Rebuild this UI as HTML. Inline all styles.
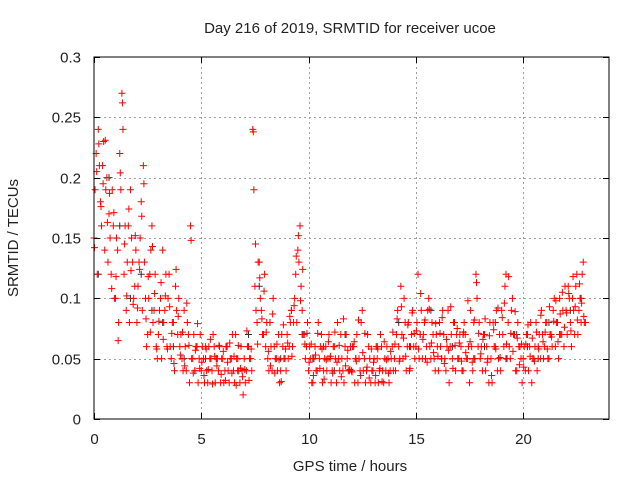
<!DOCTYPE html>
<html><head><meta charset="utf-8"><style>
body{margin:0;background:#fff;}
svg text{font-family:"Liberation Sans",sans-serif;font-size:15px;fill:#222;}
</style></head><body>
<svg id="chart" width="640" height="480" xmlns="http://www.w3.org/2000/svg">
<rect width="640" height="480" fill="#fff"/>
<text x="350" y="33" text-anchor="middle">Day 216 of 2019, SRMTID for receiver ucoe</text>
<g id="grid"></g>
<g id="marks"></g>
<rect x="94" y="57" width="515" height="362" fill="none" stroke="#000" stroke-width="1"/>
<g id="ticks"></g>
<text x="350" y="471" text-anchor="middle">GPS time / hours</text>
<text transform="translate(18,238) rotate(-90)" text-anchor="middle">SRMTID / TECUs</text>
</svg>
<script>
const xTicks=[0,5,10,15,20];
const yTicks=[0,0.05,0.1,0.15,0.2,0.25,0.3];
const yTickLabels=["0","0.05","0.1","0.15","0.2","0.25","0.3"];
const startHour=0, stepHour=0.1;
const redA=[.15,.22,.24,.18,.21,.14,.20,.17,.12,.16,
.10,.14,.22,.27,.12,.09,.16,.19,.13,.11,
.08,.13,.18,.21,.10,.07,.12,.16,.09,.06,
.07,.10,.14,.09,.06,.12,.05,.08,.11,.07,
.06,.05,.09,.04,.07,.16,.05,.04,.06,.05,
.04,.05,.06,.03,.05,.04,.06,.05,.04,.03,
.05,.04,.06,.03,.05,.04,.07,.05,.03,.04,
.05,.04,.06,.05,.24,.11,.08,.13,.09,.07,
.06,.05,.08,.04,.06,.05,.07,.04,.06,.05,
.07,.06,.09,.08,.12,.14,.16,.09,.07,.06,
.04,.05,.03,.06,.04,.05,.07,.04,.06,.05,
.05,.04,.06,.03,.05,.07,.04,.06,.05,.04,
.04,.06,.05,.03,.04,.09,.05,.04,.06,.03,
.04,.03,.05,.04,.06,.03,.04,.05,.04,.06,
.05,.07,.06,.11,.05,.08,.06,.04,.07,.06,
.06,.12,.07,.05,.08,.06,.10,.05,.07,.04,
.06,.08,.05,.07,.04,.09,.06,.05,.08,.07,
.05,.06,.04,.07,.05,.03,.06,.08,.12,.06,
.05,.04,.07,.06,.03,.05,.08,.06,.04,.07,
.09,.06,.12,.08,.05,.10,.07,.04,.06,.05,
.05,.04,.07,.06,.03,.05,.08,.06,.05,.07,
.06,.08,.05,.07,.09,.06,.08,.10,.07,.06,
.09,.11,.08,.10,.07,.12,.09,.08,.13,.08];
const redB=[.19,.12,.21,.16,.23,.19,.13,.15,.19,.10,
.15,.08,.19,.24,.16,.13,.08,.15,.10,.14,
.11,.15,.09,.13,.06,.10,.14,.08,.12,.05,
.09,.05,.08,.12,.10,.06,.08,.04,.09,.10,
.07,.04,.06,.08,.03,.05,.07,.06,.03,.07,
.06,.03,.04,.06,.05,.07,.03,.05,.06,.05,
.03,.06,.04,.05,.07,.03,.05,.04,.06,.02,
.03,.06,.05,.04,.19,.09,.13,.10,.07,.12,
.08,.04,.06,.10,.05,.04,.03,.07,.05,.04,
.05,.08,.06,.10,.08,.13,.11,.07,.05,.08,
.06,.03,.05,.04,.08,.06,.03,.05,.04,.07,
.03,.06,.05,.08,.04,.05,.03,.07,.04,.06,
.06,.03,.07,.05,.08,.04,.03,.07,.05,.04,
.05,.06,.03,.07,.04,.05,.06,.03,.05,.04,
.04,.09,.05,.07,.10,.04,.08,.06,.09,.05,
.08,.05,.09,.07,.05,.09,.06,.08,.05,.07,
.04,.06,.09,.05,.06,.03,.07,.08,.04,.05,
.07,.04,.08,.05,.06,.09,.04,.05,.10,.08,
.06,.07,.04,.05,.08,.03,.06,.09,.05,.04,
.07,.11,.05,.06,.09,.07,.04,.08,.06,.03,
.06,.07,.04,.08,.05,.06,.04,.07,.09,.05,
.08,.05,.07,.06,.10,.08,.05,.07,.09,.11,
.07,.10,.06,.09,.11,.07,.10,.12,.08];
const redC=[.142,.205,.228,.176,.195,.231,.163,.187,.108,.171,
.118,.065,.204,.262,.145,.102,.174,.123,.095,.152,
.092,.124,.168,.195,.083,.118,.072,.143,.104,.058,
.081,.113,.066,.102,.058,.093,.071,.046,.124,.085,
.053,.072,.044,.096,.061,.148,.038,.057,.079,.042,
.047,.036,.058,.041,.066,.029,.052,.044,.061,.037,
.056,.032,.047,.063,.038,.052,.028,.061,.042,.035,
.041,.073,.032,.058,.238,.145,.062,.117,.083,.106,
.072,.056,.044,.087,.038,.062,.049,.031,.078,.058,
.063,.085,.052,.094,.135,.152,.098,.124,.062,.071,
.047,.062,.036,.053,.071,.042,.058,.033,.049,.064,
.052,.038,.072,.047,.061,.035,.083,.044,.057,.041,
.039,.064,.048,.082,.036,.055,.071,.043,.034,.058,
.047,.036,.058,.042,.031,.064,.049,.038,.056,.072,
.062,.083,.048,.093,.067,.052,.078,.042,.088,.071,
.073,.058,.104,.066,.082,.047,.091,.063,.055,.079,
.052,.071,.084,.046,.066,.057,.093,.042,.061,.075,
.063,.048,.072,.055,.098,.064,.047,.082,.113,.071,
.054,.066,.083,.047,.069,.036,.074,.058,.092,.051,
.084,.096,.062,.118,.071,.056,.089,.067,.045,.062,
.043,.062,.078,.052,.067,.048,.072,.058,.086,.064,
.072,.058,.093,.068,.081,.098,.064,.087,.105,.076,
.088,.104,.073,.118,.093,.082,.112,.096,.085];
const blackStep=0.5;
const blackVals=[.12,.20,.16,.10,.12,.09,.08,.06,.05,.04,.05,.05,.06,.04,.07,.11,.08,.05,.09,.07,.05,.06,.04,.07,.05,.04,.06,.05,.08,.06,.07,.09,.05,.06,.07,.05,.06,.08,.05,.07,.06,.05,.08,.07,.09,.10];

const NS="http://www.w3.org/2000/svg";
const X0=94,X1=609,Y0=419,Y1=57;
const xs=h=>X0+h/24*(X1-X0);
const ys=v=>Y0-v/0.3*(Y0-Y1);
const grid=document.getElementById('grid'),ticks=document.getElementById('ticks'),marks=document.getElementById('marks');
function line(p,x1,y1,x2,y2,st,da){const l=document.createElementNS(NS,'line');l.setAttribute('x1',x1);l.setAttribute('y1',y1);l.setAttribute('x2',x2);l.setAttribute('y2',y2);l.setAttribute('stroke',st);if(da)l.setAttribute('stroke-dasharray',da);p.appendChild(l);return l;}
xTicks.forEach(t=>{const x=Math.round(xs(t))+0.5;
 if(t>0){const g=line(grid,x,Y1,x,Y0,'#a0a0a0','2,3');
 
 }
 line(ticks,x,Y0,x,Y0-6,'#000');line(ticks,x,Y1,x,Y1+6,'#000');
 const tx=document.createElementNS(NS,'text');tx.setAttribute('x',x);tx.setAttribute('y',444);tx.setAttribute('text-anchor','middle');tx.textContent=t;
 
 
 ticks.appendChild(tx);});
yTicks.forEach((t,i)=>{const y=Math.round(ys(t))+0.5;
 if(t>0&&t<0.3){const g=line(grid,X0,y,X1,y,'#a0a0a0','2,3');
 
 }
 line(ticks,X0,y,X0+6,y,'#000');line(ticks,X1,y,X1-6,y,'#000');
 const tx=document.createElementNS(NS,'text');tx.setAttribute('x',81);tx.setAttribute('y',y+5);tx.setAttribute('text-anchor','end');tx.textContent=yTickLabels[i];
 
 
 ticks.appendChild(tx);});
function plus(h,v,col,name){const x=xs(h),y=ys(v);const p=document.createElementNS(NS,'path');
 p.setAttribute('d',`M${x-3.5} ${y}H${x+3.5}M${x} ${y-3.5}V${y+3.5}`);p.setAttribute('stroke',col);p.setAttribute('stroke-width','1');
 
 
 marks.appendChild(p);}
blackVals.forEach((v,i)=>plus(startHour+i*blackStep+0.2,v,'#333','black-point'));
redA.forEach((v,i)=>plus(startHour+i*stepHour,v,'#ff0000','red-point'));
redB.forEach((v,i)=>plus(startHour+i*stepHour+0.05,v,'#ff0000','red-point'));
redC.forEach((v,i)=>plus(startHour+i*stepHour+0.025,v,'#ff0000','red-point'));
</script>
</body></html>
